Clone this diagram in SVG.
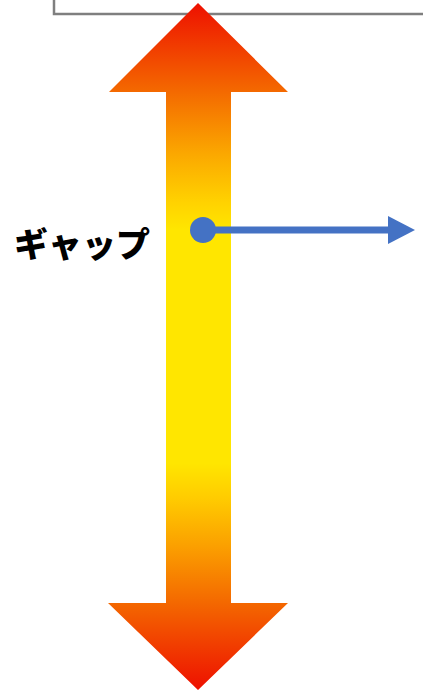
<svg xmlns="http://www.w3.org/2000/svg" width="423" height="691" viewBox="0 0 423 691">
<style>
.lbl{font-family:"Noto Sans CJK JP","Noto Sans",sans-serif;font-weight:900;font-size:34px;fill:#000}
.frame{fill:#fff;stroke:#7F7F7F;stroke-width:2.5}
.conn{stroke:#4472C4;stroke-width:7;fill:none}
</style>
<defs>
<linearGradient id="g" gradientUnits="userSpaceOnUse" x1="0" y1="3" x2="0" y2="690">
<stop offset="0" stop-color="#EE1000"/>
<stop offset="0.13" stop-color="#F46A00"/>
<stop offset="0.22" stop-color="#FBA800"/>
<stop offset="0.29" stop-color="#FFD200"/>
<stop offset="0.33" stop-color="#FFE600"/>
<stop offset="0.67" stop-color="#FFE600"/>
<stop offset="0.72" stop-color="#FFCC00"/>
<stop offset="0.79" stop-color="#FBA000"/>
<stop offset="0.87" stop-color="#F46A00"/>
<stop offset="1" stop-color="#EE1000"/>
</linearGradient>
<marker id="ah" markerUnits="userSpaceOnUse" markerWidth="28" markerHeight="28" refX="0" refY="14" orient="auto">
<path d="M0,0 L27,14 L0,28 Z" fill="#4472C4"/>
</marker>
</defs>
<g id="frame">
<rect class="frame" x="54" y="-20" width="400" height="34"/>
</g>
<g id="gap-arrow">
<path d="M198,3 L288,92 L231,92 L231,603 L288,603 L198,690 L108,603 L166,603 L166,92 L109,92 Z" fill="url(#g)"/>
</g>
<g id="label">
<text class="lbl" x="14" y="257">ギャップ</text>
</g>
<g id="connectors">
<line class="conn" x1="203" y1="230" x2="388" y2="230" marker-end="url(#ah)"/>
<circle cx="203" cy="230" r="13" fill="#4472C4"/>
</g>
</svg>
